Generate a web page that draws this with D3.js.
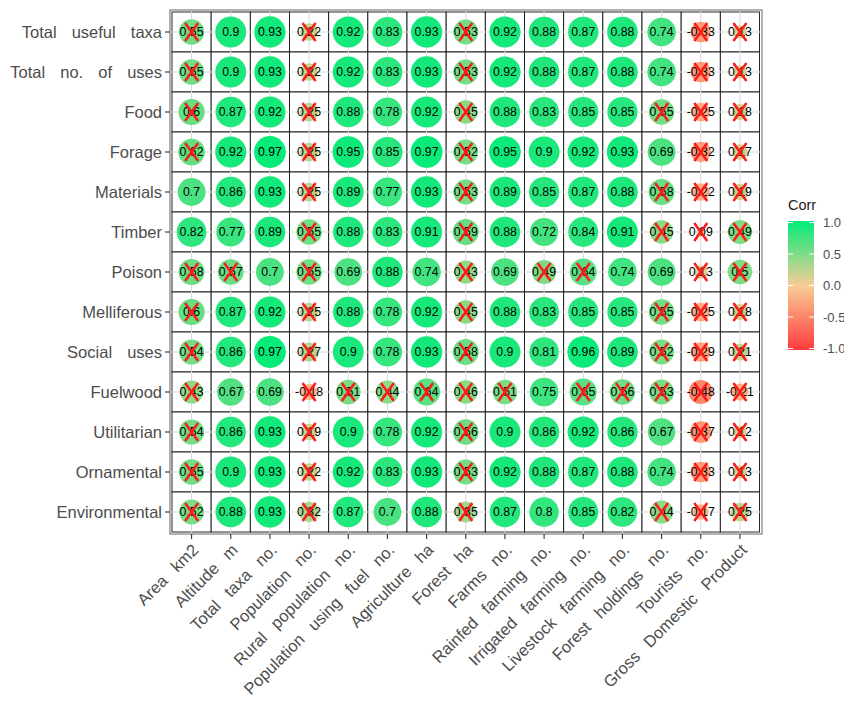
<!DOCTYPE html>
<html>
<head>
<meta charset="utf-8">
<script src="https://cdn.jsdelivr.net/npm/d3@7"></script>
<style>
  html, body { margin: 0; padding: 0; background: #fff; }
  svg { display: block; font-family: "Liberation Sans", Arial, sans-serif; }
</style>
</head>
<body>
<svg id="chart" width="844" height="702"></svg>
<script>
const columns = ["Area km2", "Altitude m", "Total taxa no.", "Population no.", "Rural population no.",
  "Population using fuel no.", "Agriculture ha", "Forest ha", "Farms no.", "Rainfed farming no.",
  "Irrigated farming no.", "Livestock farming no.", "Forest holdings no.", "Tourists no.", "Gross Domestic Product"];
const rows = ["Total useful taxa", "Total no. of uses", "Food", "Forage", "Materials", "Timber", "Poison",
  "Melliferous", "Social uses", "Fuelwood", "Utilitarian", "Ornamental", "Environmental"];

const totalUsefulTaxa = [0.55, 0.9, 0.93, 0.22, 0.92, 0.83, 0.93, 0.53, 0.92, 0.88, 0.87, 0.88, 0.74, -0.33, 0.13];
const totalNoOfUses   = [0.55, 0.9, 0.93, 0.22, 0.92, 0.83, 0.93, 0.53, 0.92, 0.88, 0.87, 0.88, 0.74, -0.33, 0.13];
const food            = [0.6, 0.87, 0.92, 0.25, 0.88, 0.78, 0.92, 0.45, 0.88, 0.83, 0.85, 0.85, 0.55, -0.25, 0.18];
const forage          = [0.62, 0.92, 0.97, 0.25, 0.95, 0.85, 0.97, 0.52, 0.95, 0.9, 0.92, 0.93, 0.69, -0.32, 0.17];
const materials       = [0.7, 0.86, 0.93, 0.25, 0.89, 0.77, 0.93, 0.53, 0.89, 0.85, 0.87, 0.88, 0.58, -0.22, 0.19];
const timber          = [0.82, 0.77, 0.89, 0.55, 0.88, 0.83, 0.91, 0.59, 0.88, 0.72, 0.84, 0.91, 0.45, 0.09, 0.49];
const poison          = [0.58, 0.57, 0.7, 0.55, 0.69, 0.88, 0.74, 0.43, 0.69, 0.49, 0.64, 0.74, 0.69, 0.13, 0.5];
const melliferous     = [0.6, 0.87, 0.92, 0.25, 0.88, 0.78, 0.92, 0.45, 0.88, 0.83, 0.85, 0.85, 0.55, -0.25, 0.18];
const socialUses      = [0.54, 0.86, 0.97, 0.27, 0.9, 0.78, 0.93, 0.58, 0.9, 0.81, 0.96, 0.89, 0.52, -0.29, 0.21];
const fuelwood        = [0.43, 0.67, 0.69, -0.18, 0.51, 0.44, 0.64, 0.46, 0.51, 0.75, 0.65, 0.56, 0.53, -0.48, -0.21];
const utilitarian     = [0.54, 0.86, 0.93, 0.19, 0.9, 0.78, 0.92, 0.56, 0.9, 0.86, 0.92, 0.86, 0.67, -0.37, 0.12];
const ornamental      = [0.55, 0.9, 0.93, 0.22, 0.92, 0.83, 0.93, 0.53, 0.92, 0.88, 0.87, 0.88, 0.74, -0.33, 0.13];
const environmental   = [0.52, 0.88, 0.93, 0.32, 0.87, 0.7, 0.88, 0.35, 0.87, 0.8, 0.85, 0.82, 0.44, -0.17, 0.25];

const rowValues = [totalUsefulTaxa, totalNoOfUses, food, forage, materials, timber, poison,
  melliferous, socialUses, fuelwood, utilitarian, ornamental, environmental];

// correlations below this magnitude are marked as not significant (crossed)
const sigThreshold = 0.66;
const legendTicks = [1.0, 0.5, 0.0, -0.5, -1.0];
const legendTitle = "Corr";

const cells = [];
rows.forEach((r, i) => columns.forEach((c, j) => {
  cells.push({ row: r, col: c, value: rowValues[i][j] });
}));

const svg = d3.select("#chart");

const panel = { x0: 170, x1: 762, y0: 10, y1: 534 };
const x = d3.scaleBand().domain(columns).range([172, 759.5]);
const y = d3.scaleBand().domain(rows).range([12, 532]);

const color = d3.scaleLinear().domain([-1, 0, 1])
  .range(["#FF3C3C", "#F8CC96", "#00EC78"]).interpolate(d3.interpolateRgb);

const absVals = cells.map(d => Math.abs(d.value));
const tScale = d3.scaleLinear().domain([d3.min(absVals), d3.max(absVals)]).range([0, 1]);
const diam = v => 8.5 + 23.3 * Math.sqrt(tScale(Math.abs(v)));

// panel background
svg.append("rect").attr("x", panel.x0).attr("y", panel.y0)
  .attr("width", panel.x1 - panel.x0).attr("height", panel.y1 - panel.y0)
  .attr("fill", "#fff");

// tiles
svg.append("g").selectAll("rect").data(cells).join("rect")
  .attr("x", d => x(d.col)).attr("y", d => y(d.row))
  .attr("width", x.bandwidth()).attr("height", y.bandwidth())
  .attr("fill", "#fff").attr("stroke", "#111").attr("stroke-width", 0.9);

// grid lines through centres
const grid = svg.append("g").attr("stroke", "#d9d9d9").attr("stroke-width", 1);
columns.forEach(c => {
  const cx = x(c) + x.bandwidth() / 2;
  grid.append("line").attr("x1", cx).attr("x2", cx).attr("y1", panel.y0).attr("y2", panel.y1);
});
rows.forEach(r => {
  const cy = y(r) + y.bandwidth() / 2;
  grid.append("line").attr("x1", panel.x0).attr("x2", panel.x1).attr("y1", cy).attr("y2", cy);
});

// circles
svg.append("g").selectAll("circle").data(cells).join("circle")
  .attr("cx", d => x(d.col) + x.bandwidth() / 2)
  .attr("cy", d => y(d.row) + y.bandwidth() / 2)
  .attr("r", d => diam(d.value) / 2)
  .attr("fill", d => color(d.value));

// labels
svg.append("g").selectAll("text").data(cells).join("text")
  .attr("x", d => x(d.col) + x.bandwidth() / 2)
  .attr("y", d => y(d.row) + y.bandwidth() / 2 + 4.4)
  .attr("text-anchor", "middle").attr("font-size", 12.3).attr("fill", "#000")
  .text(d => String(d.value));

// crosses
svg.append("g").selectAll("path").data(cells.filter(d => Math.abs(d.value) < sigThreshold)).join("path")
  .attr("d", d => {
    const cx = x(d.col) + x.bandwidth() / 2, cy = y(d.row) + y.bandwidth() / 2;
    const w = 6.5, h = 9;
    return `M${cx - w},${cy - h}L${cx + w},${cy + h}M${cx + w},${cy - h}L${cx - w},${cy + h}`;
  })
  .attr("stroke", "#FF1A1A").attr("stroke-width", 2.5).attr("fill", "none");

// panel border
svg.append("rect").attr("x", panel.x0).attr("y", panel.y0)
  .attr("width", panel.x1 - panel.x0).attr("height", panel.y1 - panel.y0)
  .attr("fill", "none").attr("stroke", "#8a8a8a").attr("stroke-width", 1.3);

// y axis
const yAxis = svg.append("g");
rows.forEach(r => {
  const cy = y(r) + y.bandwidth() / 2;
  yAxis.append("line").attr("x1", panel.x0 - 5).attr("x2", panel.x0).attr("y1", cy).attr("y2", cy)
    .attr("stroke", "#333").attr("stroke-width", 1.1);
  yAxis.append("text").attr("x", panel.x0 - 8).attr("y", cy + 5.8)
    .attr("text-anchor", "end").attr("font-size", 16.5).attr("fill", "#4d4d4d")
    .attr("word-spacing", 10.5).text(r);
});

// x axis
const xAxis = svg.append("g");
columns.forEach(c => {
  const cx = x(c) + x.bandwidth() / 2;
  xAxis.append("line").attr("x1", cx).attr("x2", cx).attr("y1", panel.y1).attr("y2", panel.y1 + 5)
    .attr("stroke", "#333").attr("stroke-width", 1.1);
  xAxis.append("text")
    .attr("transform", `translate(${cx + 8},${panel.y1 + 17}) rotate(-45)`)
    .attr("text-anchor", "end").attr("font-size", 16.5).attr("fill", "#4d4d4d")
    .attr("word-spacing", 8).text(c);
});

// legend
const lg = { x: 788, w: 26, yTop: 221, yBot: 350 };
const defs = svg.append("defs");
const grad = defs.append("linearGradient").attr("id", "corrGrad")
  .attr("x1", 0).attr("y1", 1).attr("x2", 0).attr("y2", 0);
d3.range(0, 1.0001, 0.05).forEach(t => {
  grad.append("stop").attr("offset", t).attr("stop-color", color(-1 + 2 * t));
});
svg.append("text").attr("x", lg.x).attr("y", 210).attr("font-size", 14.5).attr("fill", "#222")
  .text(legendTitle);
svg.append("rect").attr("x", lg.x).attr("y", lg.yTop).attr("width", lg.w).attr("height", lg.yBot - lg.yTop)
  .attr("fill", "url(#corrGrad)");
const ly = d3.scaleLinear().domain([-1, 1]).range([lg.yBot - 1.5, lg.yTop + 1.5]);
legendTicks.forEach(v => {
  svg.append("line").attr("x1", lg.x).attr("x2", lg.x + 5).attr("y1", ly(v)).attr("y2", ly(v))
    .attr("stroke", "#fff").attr("stroke-width", 1);
  svg.append("line").attr("x1", lg.x + lg.w - 5).attr("x2", lg.x + lg.w).attr("y1", ly(v)).attr("y2", ly(v))
    .attr("stroke", "#fff").attr("stroke-width", 1);
  svg.append("text").attr("x", lg.x + 35).attr("y", ly(v) + 4.5).attr("font-size", 13).attr("fill", "#4d4d4d")
    .text(d3.format(".1f")(v).replace("−", "-"));
});
</script>
</body>
</html>
